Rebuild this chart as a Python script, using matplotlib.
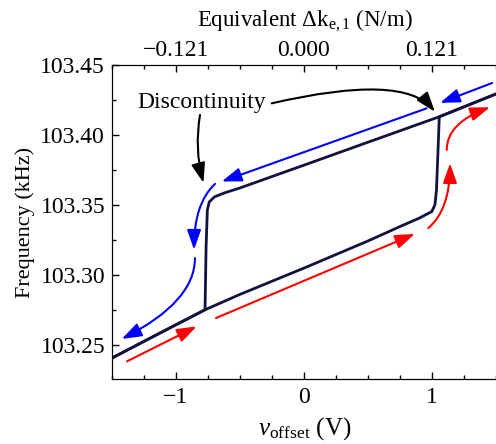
import numpy as np
import matplotlib
matplotlib.use("Agg")
import matplotlib.pyplot as plt
from matplotlib.ticker import MultipleLocator, FormatStrFormatter

plt.rcParams['font.family'] = ['Liberation Serif', 'DejaVu Serif']
plt.rcParams['mathtext.fontset'] = 'custom'
plt.rcParams['mathtext.rm'] = 'Liberation Serif'
plt.rcParams['mathtext.it'] = 'Liberation Serif:italic'
plt.rcParams['font.size'] = 16

# sweep up (lower branch, jump near +1 V)
up_v = [-1.5, -1.0, -0.773, -0.5, 0.0, 0.5, 0.75, 0.9, 0.998, 1.023, 1.035, 1.047, 1.057, 1.5]
up_f = [103.2405, 103.2643, 103.275, 103.286, 103.3048, 103.3242, 103.3345, 103.3405,
        103.3452, 103.350, 103.3607, 103.389, 103.413, 103.4293]
# sweep down (upper branch, drop near -0.77 V)
down_v = [1.5, 1.057, 0.5, 0.0, -0.5, -0.62, -0.70, -0.74, -0.755, -0.765, -0.773, -1.0, -1.5]
down_f = [103.4293, 103.413, 103.3948, 103.3784, 103.3621, 103.3586, 103.3557, 103.3521,
          103.3464, 103.320, 103.275, 103.2643, 103.2405]

# direction arrows: (start, tip, connection style)
blue_arrows = [((1.469, 103.4371), (1.0625, 103.4229), 'arc3,rad=0'),
               ((0.958, 103.4190), (-0.643, 103.3667), 'arc3,rad=0'),
               ((-0.695, 103.3650), (-0.859, 103.3179), 'angle3,angleA=43,angleB=90'),
               ((-0.852, 103.3119), (-1.424, 103.2541), 'angle3,angleA=90,angleB=27')]
red_arrows = [((-1.383, 103.2381), (-0.838, 103.2631), 'arc3,rad=0'),
              ((-0.6875, 103.2691), (0.867, 103.3293), 'arc3,rad=0'),
              ((0.971, 103.3334), (1.1406, 103.3798), 'angle3,angleA=40,angleB=90'),
              ((1.115, 103.3893), (1.453, 103.4198), 'angle3,angleA=90,angleB=20')]
note_text = 'Discontinuity'
note_pos = (-0.799, 103.4229)
note_arrows = [((-0.8125, 103.4143), (-0.785, 103.3657), 'arc3,rad=0.11'),
               ((-0.252, 103.4226), (1.023, 103.4166), 'angle3,angleA=13,angleB=-51')]

top_ticks_v = [-1, 0, 1]
top_labels = ['\u22120.121', '0.000', '0.121']
navy = '#121240'

fig = plt.figure(figsize=(4.96, 4.44), dpi=100)
ax = fig.add_axes([112/496, 65/444, 385/496, 314/444])

ax.plot(up_v, up_f, color=navy, lw=2.0, zorder=3)
ax.plot(down_v, down_f, color=navy, lw=2.0, zorder=3)

head = '-|>,head_length=0.8,head_width=0.28'
for group, col in [(blue_arrows, '#0000ff'), (red_arrows, '#ff0000'), (note_arrows, 'black')]:
    for start, tip, cs in group:
        ax.annotate('', xy=tip, xytext=start,
                    arrowprops=dict(arrowstyle=head, color=col, lw=1.5,
                                    connectionstyle=cs, shrinkA=0, shrinkB=0,
                                    mutation_scale=15))

ax.text(note_pos[0], note_pos[1], note_text, ha='center', va='center', fontsize=17)

ax.set_xlim(-1.5, 1.5 + 1/128)
ax.set_ylim(103.2255, 103.45)
ax.xaxis.set_major_locator(MultipleLocator(1))
ax.xaxis.set_minor_locator(MultipleLocator(0.25))
ax.yaxis.set_major_locator(MultipleLocator(0.05))
ax.yaxis.set_minor_locator(MultipleLocator(0.025))
ax.yaxis.set_major_formatter(FormatStrFormatter('%.2f'))
ax.tick_params(which='both', direction='in', top=False, right=False, labelsize=17)
ax.tick_params(axis='y', pad=5)
ax.tick_params(axis='x', pad=6)
ax.tick_params(which='major', length=5, width=1)
ax.tick_params(which='minor', length=3, width=1)
ax.set_xlabel(r'$v_{\mathrm{offset}}$ (V)', fontsize=18, labelpad=5)
ax.set_ylabel('Frequency (kHz)', fontsize=16, labelpad=4)

top = ax.twiny()
top.set_xlim(ax.get_xlim())
top.set_xticks(top_ticks_v)
top.set_xticklabels(top_labels)
top.xaxis.set_minor_locator(MultipleLocator(0.25))
top.tick_params(which='both', direction='in', labelsize=17, pad=3)
top.tick_params(which='major', length=5, width=1)
top.tick_params(which='minor', length=3, width=1)
top.set_xlabel(r'Equivalent $\Delta$k$_{\mathrm{e,1}}$ (N/m)', fontsize=16.5, labelpad=10)

fig.savefig('out.png', dpi=100)
